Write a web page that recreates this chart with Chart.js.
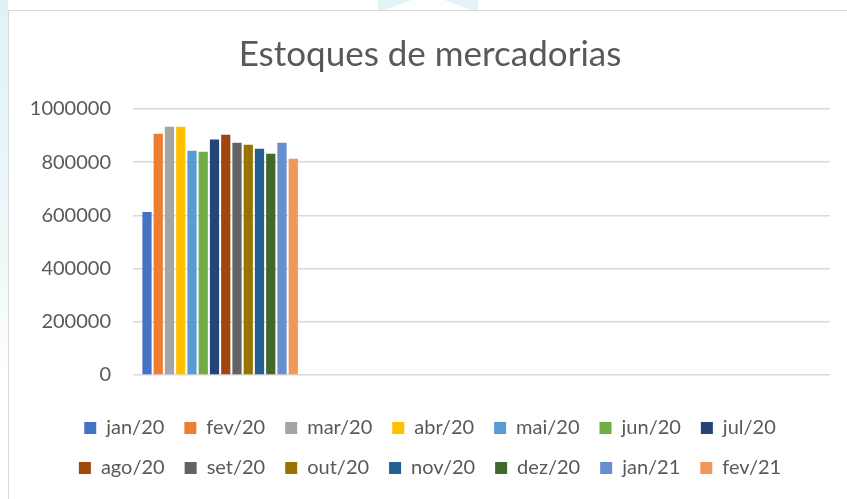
<!DOCTYPE html>
<html>
<head>
<meta charset="utf-8">
<script src="https://cdn.jsdelivr.net/npm/chart.js@4.4.0/dist/chart.umd.min.js"></script>
<style>
  html, body { margin: 0; padding: 0; background: #fff; }
  body { width: 847px; height: 499px; position: relative; overflow: hidden; }
  #deco-left { position: absolute; left: 0; top: 0; width: 8px; height: 499px;
    background: linear-gradient(#dff2f4, #eef8f9 50%, #fff 75%); }
  #deco-top { position: absolute; left: 378px; top: -40px; width: 100px; height: 50px;
    background: linear-gradient(160deg, transparent 45%, #e3f4f6 46%, #e3f4f6 60%, transparent 61%),
                linear-gradient(200deg, transparent 45%, #e3f4f6 46%, #e3f4f6 60%, transparent 61%); }
  #frame { position: absolute; left: 8px; top: 10px; width: 900px; height: 600px;
    border: 1.5px solid #d9d9d9; background: #fff; }
  #wrap { position: absolute; left: 0; top: 0; width: 847px; height: 499px; }
</style>
</head>
<body>
<div id="deco-left"></div>
<div id="deco-top"></div>
<div id="frame"></div>
<div id="wrap"><canvas id="estoquesChart"></canvas></div>
<script>
// dados do gráfico
const categorias = ['', '', '', ''];
const meses = ['jan/20', 'fev/20', 'mar/20', 'abr/20', 'mai/20', 'jun/20', 'jul/20',
               'ago/20', 'set/20', 'out/20', 'nov/20', 'dez/20', 'jan/21', 'fev/21'];
const estoques = [613000, 907000, 933000, 933000, 843000, 839000, 885000,
                  903000, 873000, 866000, 851000, 832000, 873000, 813000];
const yTicks = [0, 200000, 400000, 600000, 800000, 1000000];

const cores = ['#4472C4', '#ED7D31', '#A5A5A5', '#FFC000', '#5B9BD5', '#70AD47', '#264478',
               '#9E480E', '#636363', '#997300', '#255E91', '#43682B', '#698ED0', '#F1975A'];

const fonte = "Lato, 'Open Sans', sans-serif";
const cinza = '#595959';

const datasets = meses.map(function(mes, i) {
    return {
        label: mes,
        data: [estoques[i], null, null, null],
        backgroundColor: cores[i],
        borderWidth: 0,
        barPercentage: 0.82,
        categoryPercentage: 0.904
    };
});

const config = {
    type: 'bar',
    data: { labels: categorias, datasets: datasets },
    options: {
        responsive: true,
        maintainAspectRatio: false,
        animation: false,
        layout: { padding: { left: 30, right: 17, top: 34, bottom: 11 } },
        plugins: {
            title: {
                display: true,
                text: 'Estoques de mercadorias',
                color: cinza,
                font: { family: fonte, size: 35, weight: 'normal' },
                padding: { top: 0, bottom: 33 }
            },
            legend: {
                position: 'bottom',
                labels: {
                    color: cinza,
                    font: { family: fonte, size: 20 },
                    boxWidth: 12,
                    boxHeight: 12,
                    padding: 20
                }
            },
            tooltip: { enabled: false }
        },
        scales: {
            x: {
                grid: { display: false },
                border: { display: false },
                ticks: { display: false },
                afterFit: function(axis) { axis.height = 23; }
            },
            y: {
                min: 0,
                max: 1000000,
                afterBuildTicks: function(axis) {
                    axis.ticks = yTicks.map(function(v) { return { value: v }; });
                },
                afterFit: function(axis) { axis.width = 103; },
                grid: { color: '#d9d9d9', lineWidth: 1.5, drawTicks: false },
                border: { display: false },
                ticks: {
                    color: cinza,
                    padding: 22,
                    font: { family: fonte, size: 20 },
                    callback: function(value) { return String(value); }
                }
            }
        }
    }
};

const estoquesChart = new Chart(document.getElementById('estoquesChart'), config);
</script>
</body>
</html>
